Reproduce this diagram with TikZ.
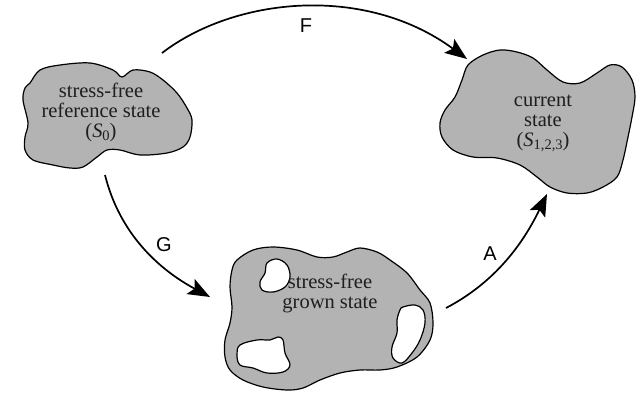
\documentclass[tikz,border=0pt]{standalone}
\usepackage{fontspec}
\setmainfont{Liberation Serif}
\newfontfamily\labelfont{Liberation Sans}
\usetikzlibrary{arrows.meta}
\definecolor{blobgray}{RGB}{179,179,179}
\definecolor{inkgray}{RGB}{30,30,30}
\newcommand{\statesym}[1]{\textit{S}\raisebox{-0.35ex}{\fontsize{14.5}{14.5}\selectfont #1}}
\tikzset{
  blob/.style={draw=black, line width=1.2pt, fill=blobgray, line join=round},
  hole/.style={draw=black, line width=1.2pt, fill=white, line join=round},
  statetext/.style={align=center, text=inkgray, font=\fontsize{20.5}{20}\selectfont, inner sep=0pt},
  maplabel/.style={font=\labelfont\fontsize{20}{20}\selectfont, inner sep=0pt},
  maparrow/.style={line width=1.7pt, -{Stealth[length=22pt,width=17pt,inset=4.5pt]}},
}
\begin{document}
\begin{tikzpicture}[x=1pt,y=-1pt]
\useasboundingbox (0,0) rectangle (640,396);

% reference configuration
\draw[blob] plot[smooth cycle, tension=0.55] coordinates {
  (30,83) (40,70) (60,65) (90,63) (113,70) (122,77) (133,70) (150,72)
  (163,80) (177,93) (187,108) (192,120) (190,137) (183,147) (167,153)
  (140,155) (120,150) (107,150) (97,157) (83,167) (70,168) (53,165)
  (33,160) (25,150) (25,137) (28,123) (23,100) (25,88)};
\node[statetext] (ref) at (101,112) {stress-free\\reference state\\(\statesym{0})};

% current configuration
\draw[blob] plot[smooth cycle, tension=0.55] coordinates {
  (468,65) (483,55) (500,50) (517,52) (533,58) (547,70) (563,82) (580,83)
  (597,73) (610,65) (622,67) (632,80) (635,97) (632,117) (628,137)
  (623,160) (617,177) (603,187) (587,193) (567,193) (550,187) (537,177)
  (520,165) (497,158) (473,157) (453,150) (442,137) (440,123) (445,110)
  (455,97) (462,80)};
\node[statetext] (cur) at (543,123) {current\\state\\(\statesym{1,2,3})};

% grown configuration with its cavities
\draw[blob] plot[smooth cycle, tension=0.55] coordinates {
  (237,260) (253,250) (273,247) (297,250) (317,257) (333,257) (347,252)
  (360,248) (377,252) (390,260) (407,273) (420,290) (430,303) (433,323)
  (430,340) (417,357) (397,367) (380,370) (360,370) (340,373) (320,380)
  (303,388) (287,390) (263,387) (243,380) (230,370) (225,357) (225,340)
  (230,323) (232,307) (230,287) (232,270)};
\draw[hole] plot[smooth cycle, tension=0.6] coordinates {
  (267,263) (277,259) (287,265) (290,277) (285,287) (273,292) (262,290)
  (260,282) (265,273)};
\draw[hole] plot[smooth cycle, tension=0.6] coordinates {
  (240,345) (257,340) (270,340) (278,337) (283,340) (285,353) (290,365)
  (283,372) (267,373) (253,368) (240,365) (237,355)};
\draw[hole] plot[smooth cycle, tension=0.6] coordinates {
  (403,307) (415,305) (423,310) (425,323) (420,340) (412,353) (402,363)
  (393,358) (392,347) (397,333) (397,320) (400,310)};
\node[statetext] (grown) at (330,293) {stress-free\\grown state};

% end points of the maps
\coordinate (F0) at (162,53);
\coordinate (F1) at (467,59);
\coordinate (G0) at (105,175);
\coordinate (G1) at (210,297);
\coordinate (A0) at (446,308);
\coordinate (A1) at (547,194);

\draw[maparrow] (F0) .. controls (235,-3) and (365,-16) .. (F1);
\draw[maparrow] (G0) .. controls (120,235) and (160,270) .. (G1);
\draw[maparrow] (A0) .. controls (490,285) and (520,250) .. (A1);

\node[maplabel] (F) at (306,26) {F};
\node[maplabel] (G) at (164,245) {G};
\node[maplabel] (A) at (490,254) {A};
\end{tikzpicture}
\end{document}
